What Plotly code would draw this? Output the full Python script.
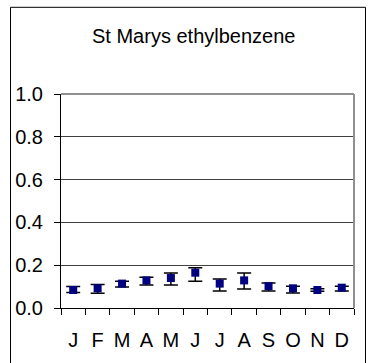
import plotly.graph_objects as go

months = ["J", "F", "M", "A", "M", "J", "J", "A", "S", "O", "N", "D"]
means = [0.084, 0.092, 0.114, 0.129, 0.140, 0.165, 0.114, 0.129, 0.102, 0.092, 0.084, 0.095]
upper = [0.100, 0.110, 0.125, 0.144, 0.163, 0.188, 0.135, 0.163, 0.117, 0.102, 0.090, 0.102]
lower = [0.072, 0.069, 0.098, 0.108, 0.108, 0.125, 0.080, 0.089, 0.080, 0.070, 0.078, 0.080]
yticks = [0.0, 0.2, 0.4, 0.6, 0.8, 1.0]

xpos = list(range(len(months)))
err_plus = [u - m for u, m in zip(upper, means)]
err_minus = [m - l for m, l in zip(means, lower)]

L, R, T, B = 61, 16, 94, 53
W, H = 370, 363
pw, ph = W - L - R, H - T - B

def px_x(px):
    return (px - L) / pw

def px_y(py):
    return (H - B - py) / ph

fig = go.Figure()
fig.add_trace(go.Scatter(
    x=xpos, y=means, mode="markers",
    marker=dict(symbol="square", size=8, color="#000080", line=dict(width=0)),
    error_y=dict(type="data", symmetric=False, array=err_plus, arrayminus=err_minus,
                 color="black", thickness=1.5, width=7),
    showlegend=False, hoverinfo="skip",
))

font = "Liberation Sans, Arial, sans-serif"
border = dict(color="black", width=1)
fig.update_layout(
    width=W, height=H,
    margin=dict(l=L, r=R, t=T, b=B, pad=0),
    paper_bgcolor="white", plot_bgcolor="white",
    showlegend=False,
    xaxis=dict(
        range=[-0.5, 11.5], tickmode="array", tickvals=xpos, ticktext=months,
        ticks="", showgrid=False, zeroline=False,
        showline=True, linecolor="black", linewidth=1,
        tickfont=dict(family=font, size=20, color="black"),
        ticklabelstandoff=14,
        minor=dict(tickmode="linear", tick0=-0.5, dtick=1, ticks="outside",
                   ticklen=6, tickcolor="black", tickwidth=1, showgrid=False),
    ),
    yaxis=dict(
        range=[0, 1], tickmode="array", tickvals=yticks, tickformat=".1f",
        ticks="outside", ticklen=6, tickcolor="black", tickwidth=1,
        showgrid=True, gridcolor="#404040", gridwidth=1, zeroline=False,
        showline=True, linecolor="black", linewidth=1,
        tickfont=dict(family=font, size=20, color="black"),
        ticklabelstandoff=7,
    ),
    shapes=[
        dict(type="line", xref="paper", yref="paper",
             x0=px_x(10.5), x1=px_x(10.5), y0=px_y(380), y1=px_y(6.5), line=border),
        dict(type="line", xref="paper", yref="paper",
             x0=px_x(10.5), x1=px_x(365.5), y0=px_y(6.5), y1=px_y(6.5), line=border),
        dict(type="line", xref="paper", yref="paper",
             x0=px_x(365.5), x1=px_x(365.5), y0=px_y(380), y1=px_y(6.5), line=border),
        dict(type="line", xref="paper", yref="paper", x0=0, x1=1, y0=1, y1=1,
             line=dict(color="#909090", width=2)),
        dict(type="line", xref="paper", yref="paper", x0=1, x1=1, y0=0, y1=1,
             line=dict(color="#909090", width=2)),
    ],
    annotations=[
        dict(text="St Marys ethylbenzene", xref="paper", yref="paper",
             x=px_x(193), y=px_y(35), xanchor="center", yanchor="middle",
             showarrow=False, font=dict(family=font, size=20, color="black")),
    ],
)

fig.write_html("out.html", config={"displayModeBar": False, "staticPlot": True},
               post_script="document.body.style.margin='0';document.body.style.overflow='hidden';")
